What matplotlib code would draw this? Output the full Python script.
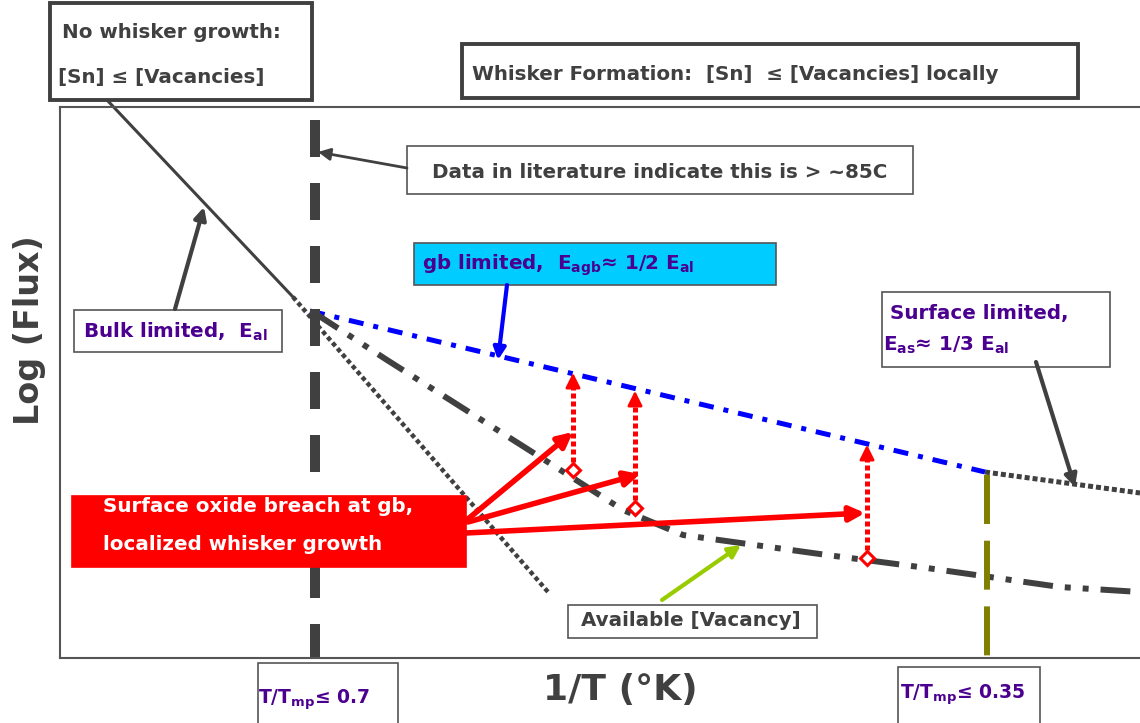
import matplotlib
matplotlib.use("Agg")
import matplotlib.pyplot as plt
from matplotlib.patches import Rectangle

# diagram values (x = 1/T, y = log flux, arbitrary units)
bulk_x = [0.47, 2.33]
bulk_y = [5.58, 3.61]
bulk_ext_x = [2.33, 4.88]
bulk_ext_y = [3.61, 0.66]
gb_x = [2.50, 9.25]
gb_y = [3.47, 1.86]
surf_x = [9.25, 10.80]
surf_y = [1.86, 1.65]
vac_x = [2.53, 3.27, 4.80, 5.63, 6.23, 7.67, 8.67, 10.00, 10.80]
vac_y = [3.46, 2.98, 2.01, 1.48, 1.23, 1.03, 0.90, 0.71, 0.66]

limit_07_x = 2.55
limit_035_x = 9.27

whisk_x = [5.13, 5.75, 8.07]
whisk_lo = [1.88, 1.50, 1.00]
whisk_hi = [2.88, 2.70, 2.16]

breach_sx = [4.08, 4.08, 4.06]
breach_sy = [1.39, 1.36, 1.25]
breach_tx = [5.13, 5.80, 8.05]
breach_ty = [2.26, 1.84, 1.45]

grey = "#404040"
purple = "#4b0090"

fig = plt.figure(figsize=(11.4, 7.23), dpi=100)
ax = fig.add_axes([60 / 1140, 65 / 723, 1080 / 1140, 551 / 723])
ax.set_xlim(0, 10.8)
ax.set_ylim(0, 5.51)
ax.set_xticks([])
ax.set_yticks([])
for s in ["left", "bottom", "top"]:
    ax.spines[s].set_color("#555555")
    ax.spines[s].set_linewidth(1.5)
ax.spines["right"].set_visible(False)

# curves
ax.plot(bulk_x, bulk_y, color=grey, lw=2.2, clip_on=False)
ax.plot(bulk_ext_x, bulk_ext_y, color=grey, lw=3.2, ls=(0, (1, 0.7)))
ax.plot(gb_x, gb_y, color="#0000ff", lw=3.6, ls=(0, (3, 2, 1, 2)))
ax.plot(surf_x, surf_y, color=grey, lw=3.6, ls=(0, (1, 0.6)))
ax.plot(vac_x, vac_y, color=grey, lw=4.3, ls=(0, (5, 2, 1, 2, 1, 2)))

# temperature limits
ax.plot([limit_07_x, limit_07_x], [5.38, 0], color=grey, lw=7.2,
        ls=(0, (3.7, 2.6)), solid_capstyle="butt", dash_capstyle="butt")
ax.plot([limit_035_x, limit_035_x], [1.83, 0.01], color="#808000", lw=4.3,
        ls=(0, (8.2, 2.8)), dash_capstyle="butt")

# localized whisker growth
for x, lo, hi in zip(whisk_x, whisk_lo, whisk_hi):
    ax.plot([x, x], [lo, hi - 0.12], color="red", lw=3.6, ls=(0, (1, 0.6)))
    ax.annotate("", xy=(x, hi), xytext=(x, hi - 0.2),
                arrowprops=dict(arrowstyle="-|>", color="red", lw=2, mutation_scale=22))
    ax.plot([x], [lo], marker="D", ms=7, mfc="white", mec="red", mew=2.2)

for sx, sy, tx, ty in zip(breach_sx, breach_sy, breach_tx, breach_ty):
    ax.annotate("", xy=(tx, ty), xytext=(sx, sy),
                arrowprops=dict(arrowstyle="-|>", color="red", lw=4, mutation_scale=22,
                                shrinkA=0, shrinkB=0))


def box(x0, y0, x1, y1, fc="white", ec="#555555", lw=1.2):
    ax.add_patch(Rectangle((x0, y0), x1 - x0, y1 - y0, fc=fc, ec=ec, lw=lw,
                           clip_on=False, zorder=5))


def arrow(x0, y0, x1, y1, color=grey, lw=3):
    ax.annotate("", xy=(x1, y1), xytext=(x0, y0), annotation_clip=False,
                arrowprops=dict(arrowstyle="-|>", color=color, lw=lw, mutation_scale=18,
                                shrinkA=0, shrinkB=0), zorder=6)


tkw = dict(fontweight="bold", zorder=7, clip_on=False, va="center")
fs = 14.3

# top boxes
box(-0.10, 5.58, 2.52, 6.55, ec=grey, lw=2.8)
ax.text(0.02, 6.25, "No whisker growth:", color=grey, fontsize=fs, **tkw)
ax.text(-0.02, 5.81, "[Sn] \u2264 [Vacancies]", color=grey, fontsize=fs, **tkw)

box(4.02, 5.60, 10.18, 6.14, ec=grey, lw=2.8)
ax.text(4.12, 5.83, "Whisker Formation:  [Sn]  \u2264 [Vacancies] locally", color=grey,
        fontsize=fs, **tkw)

box(3.47, 4.64, 8.53, 5.12)
ax.text(6.00, 4.86, "Data in literature indicate this is > ~85C", color=grey, fontsize=fs,
        ha="center", **tkw)
arrow(3.47, 4.90, 2.58, 5.06, lw=2)

box(3.54, 3.73, 7.16, 4.15, fc="#00ccff")
ax.text(3.62, 3.93, "gb limited,  E$_\\mathbf{agb}$\u2248 1/2 E$_\\mathbf{al}$",
        color=purple, fontsize=fs, **tkw)
arrow(4.47, 3.73, 4.38, 2.98, color="#0000ff", lw=3)

box(0.14, 3.06, 2.22, 3.48)
ax.text(0.23, 3.26, r"Bulk limited,  E$_\mathbf{al}$", color=purple, fontsize=fs, **tkw)
arrow(1.15, 3.49, 1.44, 4.51)

box(8.22, 2.91, 10.50, 3.66)
ax.text(8.30, 3.44, "Surface limited,", color=purple, fontsize=fs, **tkw)
ax.text(8.23, 3.13, "E$_\\mathbf{as}$\u2248 1/3 E$_\\mathbf{al}$", color=purple,
        fontsize=fs, **tkw)
arrow(9.76, 2.96, 10.15, 1.71)

box(5.08, 0.20, 7.57, 0.53)
ax.text(5.21, 0.38, "Available [Vacancy]", color=grey, fontsize=fs, **tkw)
arrow(6.02, 0.58, 6.81, 1.13, color="#99cc00")

box(0.12, 0.91, 4.06, 1.62, fc="red", ec="red")
ax.text(0.43, 1.51, "Surface oxide breach at gb,", color="white", fontsize=fs, **tkw)
ax.text(0.43, 1.14, "localized whisker growth", color="white", fontsize=fs, **tkw)

# bottom threshold boxes
box(1.98, -0.70, 3.38, -0.05)
ax.text(1.98, -0.42, "T/T$_\\mathbf{mp}$\u2264 0.7", color=purple, fontsize=13.5, **tkw)
box(8.38, -0.70, 9.80, -0.09)
ax.text(8.40, -0.37, "T/T$_\\mathbf{mp}$\u2264 0.35", color=purple, fontsize=13.5, **tkw)

ax.text(5.60, -0.32, "1/T (\u00b0K)", color=grey, fontsize=26, ha="center", **tkw)
ax.text(-0.30, 3.28, "Log (Flux)", color=grey, fontsize=24, ha="center", rotation=90, **tkw)

fig.savefig("out.png", dpi=100)
